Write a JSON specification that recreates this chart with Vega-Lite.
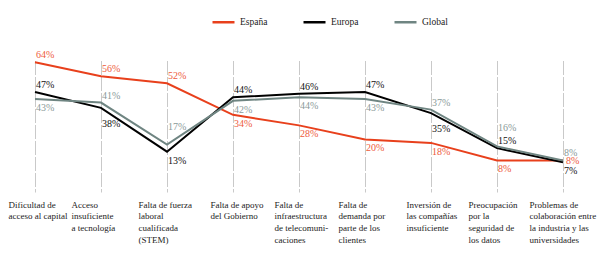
{
  "$schema": "https://vega.github.io/schema/vega-lite/v6.json",
  "width": 594,
  "height": 131.5,
  "autosize": {"type": "none"},
  "padding": {"left": 2, "top": 60.5, "right": 4, "bottom": 77},
  "background": "white",
  "config": {
    "view": {"stroke": null},
    "font": "Liberation Sans Narrow",
    "text": {"font": "Liberation Sans Narrow"}
  },
  "data": {
    "values": [
      {"categoria": "Dificultad de|acceso al capital", "serie": "España", "valor": 64},
      {"categoria": "Dificultad de|acceso al capital", "serie": "Europa", "valor": 47},
      {"categoria": "Dificultad de|acceso al capital", "serie": "Global", "valor": 43},
      {"categoria": "Acceso|insuficiente|a tecnología", "serie": "España", "valor": 56},
      {"categoria": "Acceso|insuficiente|a tecnología", "serie": "Europa", "valor": 38},
      {"categoria": "Acceso|insuficiente|a tecnología", "serie": "Global", "valor": 41},
      {"categoria": "Falta de fuerza|laboral|cualificada|(STEM)", "serie": "España", "valor": 52},
      {"categoria": "Falta de fuerza|laboral|cualificada|(STEM)", "serie": "Europa", "valor": 13},
      {"categoria": "Falta de fuerza|laboral|cualificada|(STEM)", "serie": "Global", "valor": 17},
      {"categoria": "Falta de apoyo|del Gobierno", "serie": "España", "valor": 34},
      {"categoria": "Falta de apoyo|del Gobierno", "serie": "Europa", "valor": 44},
      {"categoria": "Falta de apoyo|del Gobierno", "serie": "Global", "valor": 42},
      {"categoria": "Falta de|infraestructura|de telecomuni-|caciones", "serie": "España", "valor": 28},
      {"categoria": "Falta de|infraestructura|de telecomuni-|caciones", "serie": "Europa", "valor": 46},
      {"categoria": "Falta de|infraestructura|de telecomuni-|caciones", "serie": "Global", "valor": 44},
      {"categoria": "Falta de|demanda por|parte de los|clientes", "serie": "España", "valor": 20},
      {"categoria": "Falta de|demanda por|parte de los|clientes", "serie": "Europa", "valor": 47},
      {"categoria": "Falta de|demanda por|parte de los|clientes", "serie": "Global", "valor": 43},
      {"categoria": "Inversión de|las compañías|insuficiente", "serie": "España", "valor": 18},
      {"categoria": "Inversión de|las compañías|insuficiente", "serie": "Europa", "valor": 35},
      {"categoria": "Inversión de|las compañías|insuficiente", "serie": "Global", "valor": 37},
      {"categoria": "Preocupación|por la|seguridad de|los datos", "serie": "España", "valor": 8},
      {"categoria": "Preocupación|por la|seguridad de|los datos", "serie": "Europa", "valor": 15},
      {"categoria": "Preocupación|por la|seguridad de|los datos", "serie": "Global", "valor": 16},
      {"categoria": "Problemas de|colaboración entre|la industria y las|universidades", "serie": "España", "valor": 8},
      {"categoria": "Problemas de|colaboración entre|la industria y las|universidades", "serie": "Europa", "valor": 7},
      {"categoria": "Problemas de|colaboración entre|la industria y las|universidades", "serie": "Global", "valor": 8}
    ]
  },
  "transform": [
    {"calculate": "indexof(['Dificultad de|acceso al capital','Acceso|insuficiente|a tecnología','Falta de fuerza|laboral|cualificada|(STEM)','Falta de apoyo|del Gobierno','Falta de|infraestructura|de telecomuni-|caciones','Falta de|demanda por|parte de los|clientes','Inversión de|las compañías|insuficiente','Preocupación|por la|seguridad de|los datos','Problemas de|colaboración entre|la industria y las|universidades'], datum.categoria) + 1", "as": "i"},
    {"calculate": "datum.valor + '%'", "as": "etiqueta"}
  ],
  "encoding": {
    "x": {
      "field": "categoria",
      "type": "ordinal",
      "sort": null,
      "scale": {"type": "point", "padding": 0.5},
      "axis": {
        "title": null,
        "domain": false,
        "ticks": false,
        "grid": true,
        "gridColor": "#c9c9c9",
        "gridDash": [14, 2],
        "gridWidth": 1,
        "labelExpr": "split(datum.label, '|')",
        "labelAlign": "left",
        "labelBaseline": "top",
        "labelOffset": {
          "condition": [
            {"test": "indexof(datum.value, 'Problemas') == 0", "value": -34},
            {"test": "indexof(datum.value, 'Acceso') == 0", "value": -30},
            {"test": "indexof(datum.value, 'Falta de fuerza') == 0", "value": -29},
            {"test": "indexof(datum.value, 'Preocupación') == 0", "value": -29},
            {"test": "indexof(datum.value, 'Falta de apoyo') == 0", "value": -23},
            {"test": "indexof(datum.value, 'Falta de|infra') == 0", "value": -25},
            {"test": "indexof(datum.value, 'Inversión') == 0", "value": -25}
          ],
          "value": -27
        },
        "labelPadding": 8,
        "labelFontSize": 9,
        "labelLineHeight": 11.7,
        "labelColor": "#222222",
        "labelAngle": 0,
        "labelLimit": 0,
        "labelOverlap": false,
        "labelFont": "Liberation Sans Narrow"
      }
    },
    "y": {
      "field": "valor",
      "type": "quantitative",
      "scale": {"domain": [-10, 65], "nice": false, "zero": false},
      "axis": null
    }
  },
  "layer": [
    {
      "mark": {"type": "line", "strokeWidth": 2},
      "encoding": {
        "color": {
          "field": "serie",
          "type": "nominal",
          "scale": {"domain": ["España", "Europa", "Global"], "range": ["#e8401c", "#000000", "#6f8582"]},
          "legend": {
            "title": null,
            "orient": "none",
            "direction": "horizontal",
            "legendX": 209,
            "legendY": -51,
            "symbolType": "stroke",
            "symbolSize": 484,
            "symbolStrokeWidth": 2.5,
            "labelFontSize": 9.5,
            "labelFont": "Liberation Sans Narrow",
            "labelColor": "#222222",
            "labelOffset": 4,
            "columnPadding": 30
          }
        }
      }
    },
    {
      "transform": [{"filter": "(datum.serie=='España' && datum.i<=3) || (datum.serie=='Europa' && indexof([1,4,5,6,8], datum.i)>=0) || (datum.serie=='Global' && indexof([2,7,9], datum.i)>=0)"}],
      "mark": {"type": "text", "align": "left", "baseline": "middle", "dx": 1, "dy": -7, "fontSize": 10},
      "encoding": {
        "text": {"field": "etiqueta"},
        "fill": {"field": "serie", "type": "nominal", "scale": {"domain": ["España", "Europa", "Global"], "range": ["#ee5a3c", "#111111", "#8a9a99"]}, "legend": null}
      }
    },
    {
      "transform": [{"filter": "datum.serie=='Global' && (datum.i==3 || datum.i==8)"}],
      "mark": {"type": "text", "align": "left", "baseline": "middle", "dx": 1, "dy": -18, "fontSize": 10},
      "encoding": {
        "text": {"field": "etiqueta"},
        "fill": {"field": "serie", "type": "nominal", "legend": null}
      }
    },
    {
      "transform": [{"filter": "(datum.serie=='España' && datum.i>=4 && datum.i<=8) || (datum.serie=='Europa' && (datum.i==3 || datum.i==9)) || (datum.serie=='Global' && indexof([1,4,5,6], datum.i)>=0)"}],
      "mark": {"type": "text", "align": "left", "baseline": "middle", "dx": 1, "dy": 9, "fontSize": 10},
      "encoding": {
        "text": {"field": "etiqueta"},
        "fill": {"field": "serie", "type": "nominal", "legend": null}
      }
    },
    {
      "transform": [{"filter": "datum.serie=='Europa' && (datum.i==2 || datum.i==7)"}],
      "mark": {"type": "text", "align": "left", "baseline": "middle", "dx": 1, "dy": 16, "fontSize": 10},
      "encoding": {
        "text": {"field": "etiqueta"},
        "fill": {"field": "serie", "type": "nominal", "legend": null}
      }
    },
    {
      "transform": [{"filter": "datum.i==9 && datum.serie=='España'"}],
      "mark": {"type": "text", "align": "left", "baseline": "middle", "dx": 3, "dy": 1, "fontSize": 10},
      "encoding": {
        "text": {"field": "etiqueta"},
        "fill": {"field": "serie", "type": "nominal", "legend": null}
      }
    }
  ]
}
